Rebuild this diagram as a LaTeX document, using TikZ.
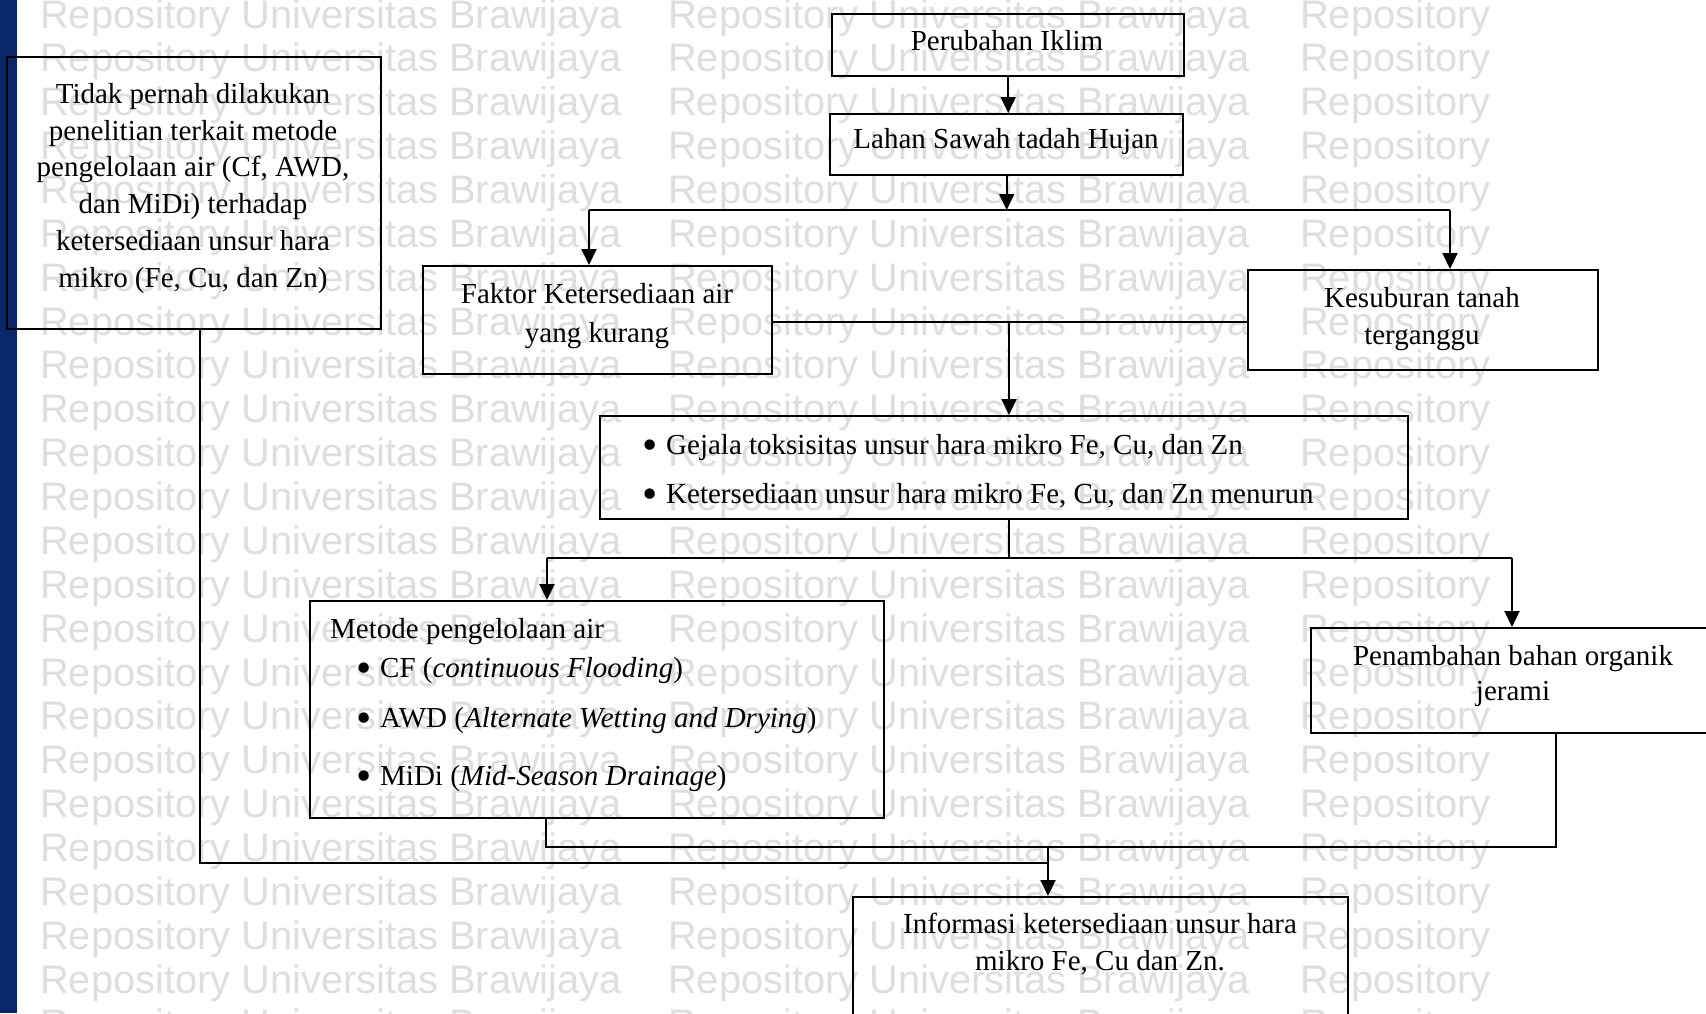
\documentclass[tikz,border=0pt]{standalone}
\usepackage{fontspec}
\usepackage{graphicx}
\setmainfont{Liberation Serif}
\newfontfamily\wmfont{Liberation Sans}
\usetikzlibrary{arrows.meta}
\definecolor{navy}{RGB}{10,38,104}
\definecolor{wmgray}{RGB}{222,222,222}
\newcommand{\bigbul}{\makebox[24pt][l]{\raisebox{-0.2em}{\scalebox{1.5}{\textbullet}}}}
\begin{document}
\begin{tikzpicture}[x=1pt,y=-1pt,
  box/.style={draw=black, line width=2.4pt, rectangle, inner sep=0pt, anchor=north west},
  txt/.style={font=\fontsize{29}{37}\selectfont, inner sep=0pt, align=center},
  ltxt/.style={font=\fontsize{29}{37}\selectfont, inner sep=0pt, anchor=base west},
  conn/.style={line width=2pt},
  arr/.style={line width=2pt, -{Triangle[length=16pt,width=15pt]}},
  wm/.style={font=\wmfont\fontsize{39.8}{40}\selectfont, text=wmgray, anchor=base west, inner sep=0pt}]

\path[use as bounding box, clip] (0,0) rectangle (1706,1013);
\fill[white] (0,0) rectangle (1706,1013);

% watermark
\foreach \k in {0,...,23} {
  \node[wm] (wa\k) at (40, 28+43.87*\k) {Repository Universitas Brawijaya};
  \node[wm] (wb\k) at (668, 28+43.87*\k) {Repository Universitas Brawijaya};
  \node[wm] (wc\k) at (1300, 28+43.87*\k) {Repository};
}

% left bar
\fill[navy] (0,0) rectangle (17,1013);

% boxes
\node[box, minimum width=374pt, minimum height=272pt] (tidak) at (6,56) {};
\node[box, minimum width=352pt, minimum height=62pt] (perubahan) at (831,13) {};
\node[box, minimum width=353pt, minimum height=61pt] (lahan) at (829,113) {};
\node[box, minimum width=349pt, minimum height=108pt] (faktor) at (422,265) {};
\node[box, minimum width=350pt, minimum height=100pt] (kesuburan) at (1247,269) {};
\node[box, minimum width=808pt, minimum height=103pt] (gejala) at (599,415) {};
\node[box, minimum width=574pt, minimum height=217pt] (metode) at (309,600) {};
\node[box, minimum width=410pt, minimum height=105pt] (penambahan) at (1310,627) {};
\node[box, minimum width=495pt, minimum height=140pt] (informasi) at (852,896) {};

% texts
\node[txt, anchor=north, font=\fontsize{29}{36.8}\selectfont] (tidakT) at (193,83)
  {Tidak pernah dilakukan\\penelitian terkait metode\\pengelolaan air (Cf, AWD,\\dan MiDi) terhadap\\ketersediaan unsur hara\\mikro (Fe, Cu, dan Zn)};
\node[txt, anchor=base] (perubahanT) at (1007,50) {Perubahan Iklim};
\node[txt, anchor=base] (lahanT) at (1006,148) {Lahan Sawah tadah Hujan};
\node[txt, anchor=north, font=\fontsize{29}{39}\selectfont] (faktorT) at (597,283) {Faktor Ketersediaan air\\yang kurang};
\node[txt, anchor=north, font=\fontsize{29}{37}\selectfont] (kesuburanT) at (1422,287) {Kesuburan tanah\\terganggu};
\node[ltxt] (gejala1) at (642,454) {\bigbul Gejala toksisitas unsur hara mikro Fe, Cu, dan Zn};
\node[ltxt] (gejala2) at (642,503) {\bigbul Ketersediaan unsur hara mikro Fe, Cu, dan Zn menurun};
\node[ltxt] (metodeT) at (330,638) {Metode pengelolaan air};
\node[ltxt] (metode1) at (356,677) {\bigbul CF (\textit{continuous Flooding})};
\node[ltxt] (metode2) at (356,727) {\bigbul AWD (\textit{Alternate Wetting and Drying})};
\node[ltxt] (metode3) at (356,785) {\bigbul MiDi (\textit{Mid-Season Drainage})};
\node[txt, anchor=north, font=\fontsize{29}{35.5}\selectfont] (penambahanT) at (1513,645) {Penambahan bahan organik\\jerami};
\node[txt, anchor=north, font=\fontsize{29}{37}\selectfont] (informasiT) at (1100,913) {Informasi ketersediaan unsur hara\\mikro Fe, Cu dan Zn.};

% junction coordinates
\coordinate (jL) at (589,210);
\coordinate (jR) at (1450,210);
\coordinate (jM) at (1009,322);
\coordinate (jG) at (1009,558);
\coordinate (jML) at (547,558);
\coordinate (jPR) at (1512,558);
\coordinate (jB1) at (546,847);
\coordinate (jB2) at (1556,847);
\coordinate (jI) at (1048,847);
\coordinate (jT) at (200,863);

% connectors
\draw[arr] (perubahan.south) -- (perubahan.south |- lahan.north);
\draw[arr] (lahan.south) -- (lahan.south |- jL);
\draw[conn] (jL) -- (jR);
\draw[arr] (jL) -- (jL |- faktor.north);
\draw[arr] (jR) -- (jR |- kesuburan.north);
\draw[conn] (faktor.east |- jM) -- (kesuburan.west |- jM);
\draw[arr] (jM) -- (jM |- gejala.north);
\draw[conn] (jG |- gejala.south) -- (jG);
\draw[conn] (jML) -- (jPR);
\draw[arr] (jML) -- (jML |- metode.north);
\draw[arr] (jPR) -- (jPR |- penambahan.north);
\draw[conn] (jB1 |- metode.south) -- (jB1) -- (jB2) -- (jB2 |- penambahan.south);
\draw[arr] (jI) -- (jI |- informasi.north);
\draw[conn] (jT |- tidak.south) -- (jT) -- (jI |- jT);
\end{tikzpicture}
\end{document}
